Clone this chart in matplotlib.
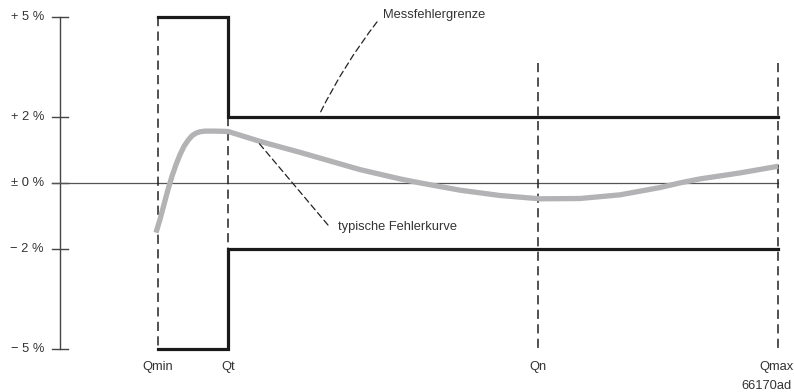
import numpy as np
import matplotlib.pyplot as plt

# flow marks on the horizontal axis (positions in axis units)
q_labels = ['Qmin', 'Qt', 'Qn', 'Qmax']
q_pos = [158, 228, 538, 778]

# y ticks (percent)
y_ticks = [5, 2, 0, -2, -5]
y_tick_labels = ['+ 5 %', '+ 2 %', '\u00b1 0 %', '\u2212 2 %', '\u2212 5 %']

# error limits: +-5 % between Qmin and Qt, +-2 % between Qt and Qmax
limit_x = [158, 228, 228, 778]
limit_upper = [5, 5, 2, 2]
limit_lower = [-5, -5, -2, -2]

# typical error curve
curve_x = [156, 160, 164, 168, 172, 176, 180, 184, 188, 192, 196, 200, 205,
           215, 228, 260, 300, 330, 360, 400, 420, 460, 500, 540, 580, 620,
           660, 680, 700, 740, 778]
curve_y = [-1.5, -1.1, -0.65, -0.2, 0.2, 0.55, 0.85, 1.1, 1.28, 1.42, 1.5,
           1.54, 1.56, 1.56, 1.55, 1.25, 0.92, 0.66, 0.4, 0.12, 0.0, -0.22,
           -0.38, -0.48, -0.47, -0.36, -0.14, 0.0, 0.12, 0.3, 0.5]

FONT = ['Liberation Sans Narrow', 'Liberation Sans', 'DejaVu Sans']
TXT = '#333333'
FS = 9.3

fig = plt.figure(figsize=(7.94, 3.92), dpi=100)
ax = fig.add_axes([0, 0, 1, 1])
ax.set_xlim(0, 794)
ax.set_ylim(-6.30, 5.51)
ax.axis('off')

# y axis with ticks and labels
ax.plot([60, 60], [5, -5], color='#444444', lw=1.0)
for v, lab in zip(y_ticks, y_tick_labels):
    ax.plot([52, 68], [v, v], color='#444444', lw=1.0)
    ax.text(44, v, lab, ha='right', va='center', fontsize=FS, color=TXT, family=FONT)

# zero line
ax.plot([52, q_pos[-1]], [0, 0], color='#555555', lw=0.9)

# dashed verticals
dash = dict(color='#222222', lw=1.1, linestyle=(0, (6, 3.5)))
ax.plot([q_pos[0]] * 2, [5, -5], **dash)
ax.plot([q_pos[1]] * 2, [2, -2], **dash)
ax.plot([q_pos[2]] * 2, [3.6, -5], **dash)
ax.plot([q_pos[3]] * 2, [3.6, -5], **dash)

# error limits
ax.plot(limit_x, limit_upper, color='#1a1a1a', lw=2.3, solid_joinstyle='miter')
ax.plot(limit_x, limit_lower, color='#1a1a1a', lw=2.3, solid_joinstyle='miter')

# typical error curve
ax.plot(curve_x, curve_y, color='#b3b3b5', lw=3.8, solid_capstyle='butt',
        solid_joinstyle='round')

# x labels
for x, lab in zip(q_pos, q_labels):
    ax.text(x - (1.5 if lab == 'Qmax' else 0), -5.55, lab, ha='center', va='center',
            fontsize=FS, color=TXT, family=FONT)

# annotations with dashed leaders
leader = dict(arrowstyle='-', color='#222222', lw=0.9,
              linestyle=(0, (5, 3)), shrinkA=0, shrinkB=0)
ax.annotate('', xy=(320, 2.1), xytext=(377, 4.85),
            arrowprops=dict(leader, connectionstyle='arc3,rad=0.05'))
ax.text(383, 5.06, 'Messfehlergrenze', ha='left', va='center',
        fontsize=FS, color=TXT, family=FONT)

ax.annotate('', xy=(258, 1.23), xytext=(328, -1.27), arrowprops=leader)
ax.text(338, -1.33, 'typische Fehlerkurve', ha='left', va='center',
        fontsize=FS, color=TXT, family=FONT)

ax.text(792, -6.12, '66170ad', ha='right', va='center', fontsize=FS, color=TXT, family=FONT)

fig.savefig('out.png', dpi=100)
